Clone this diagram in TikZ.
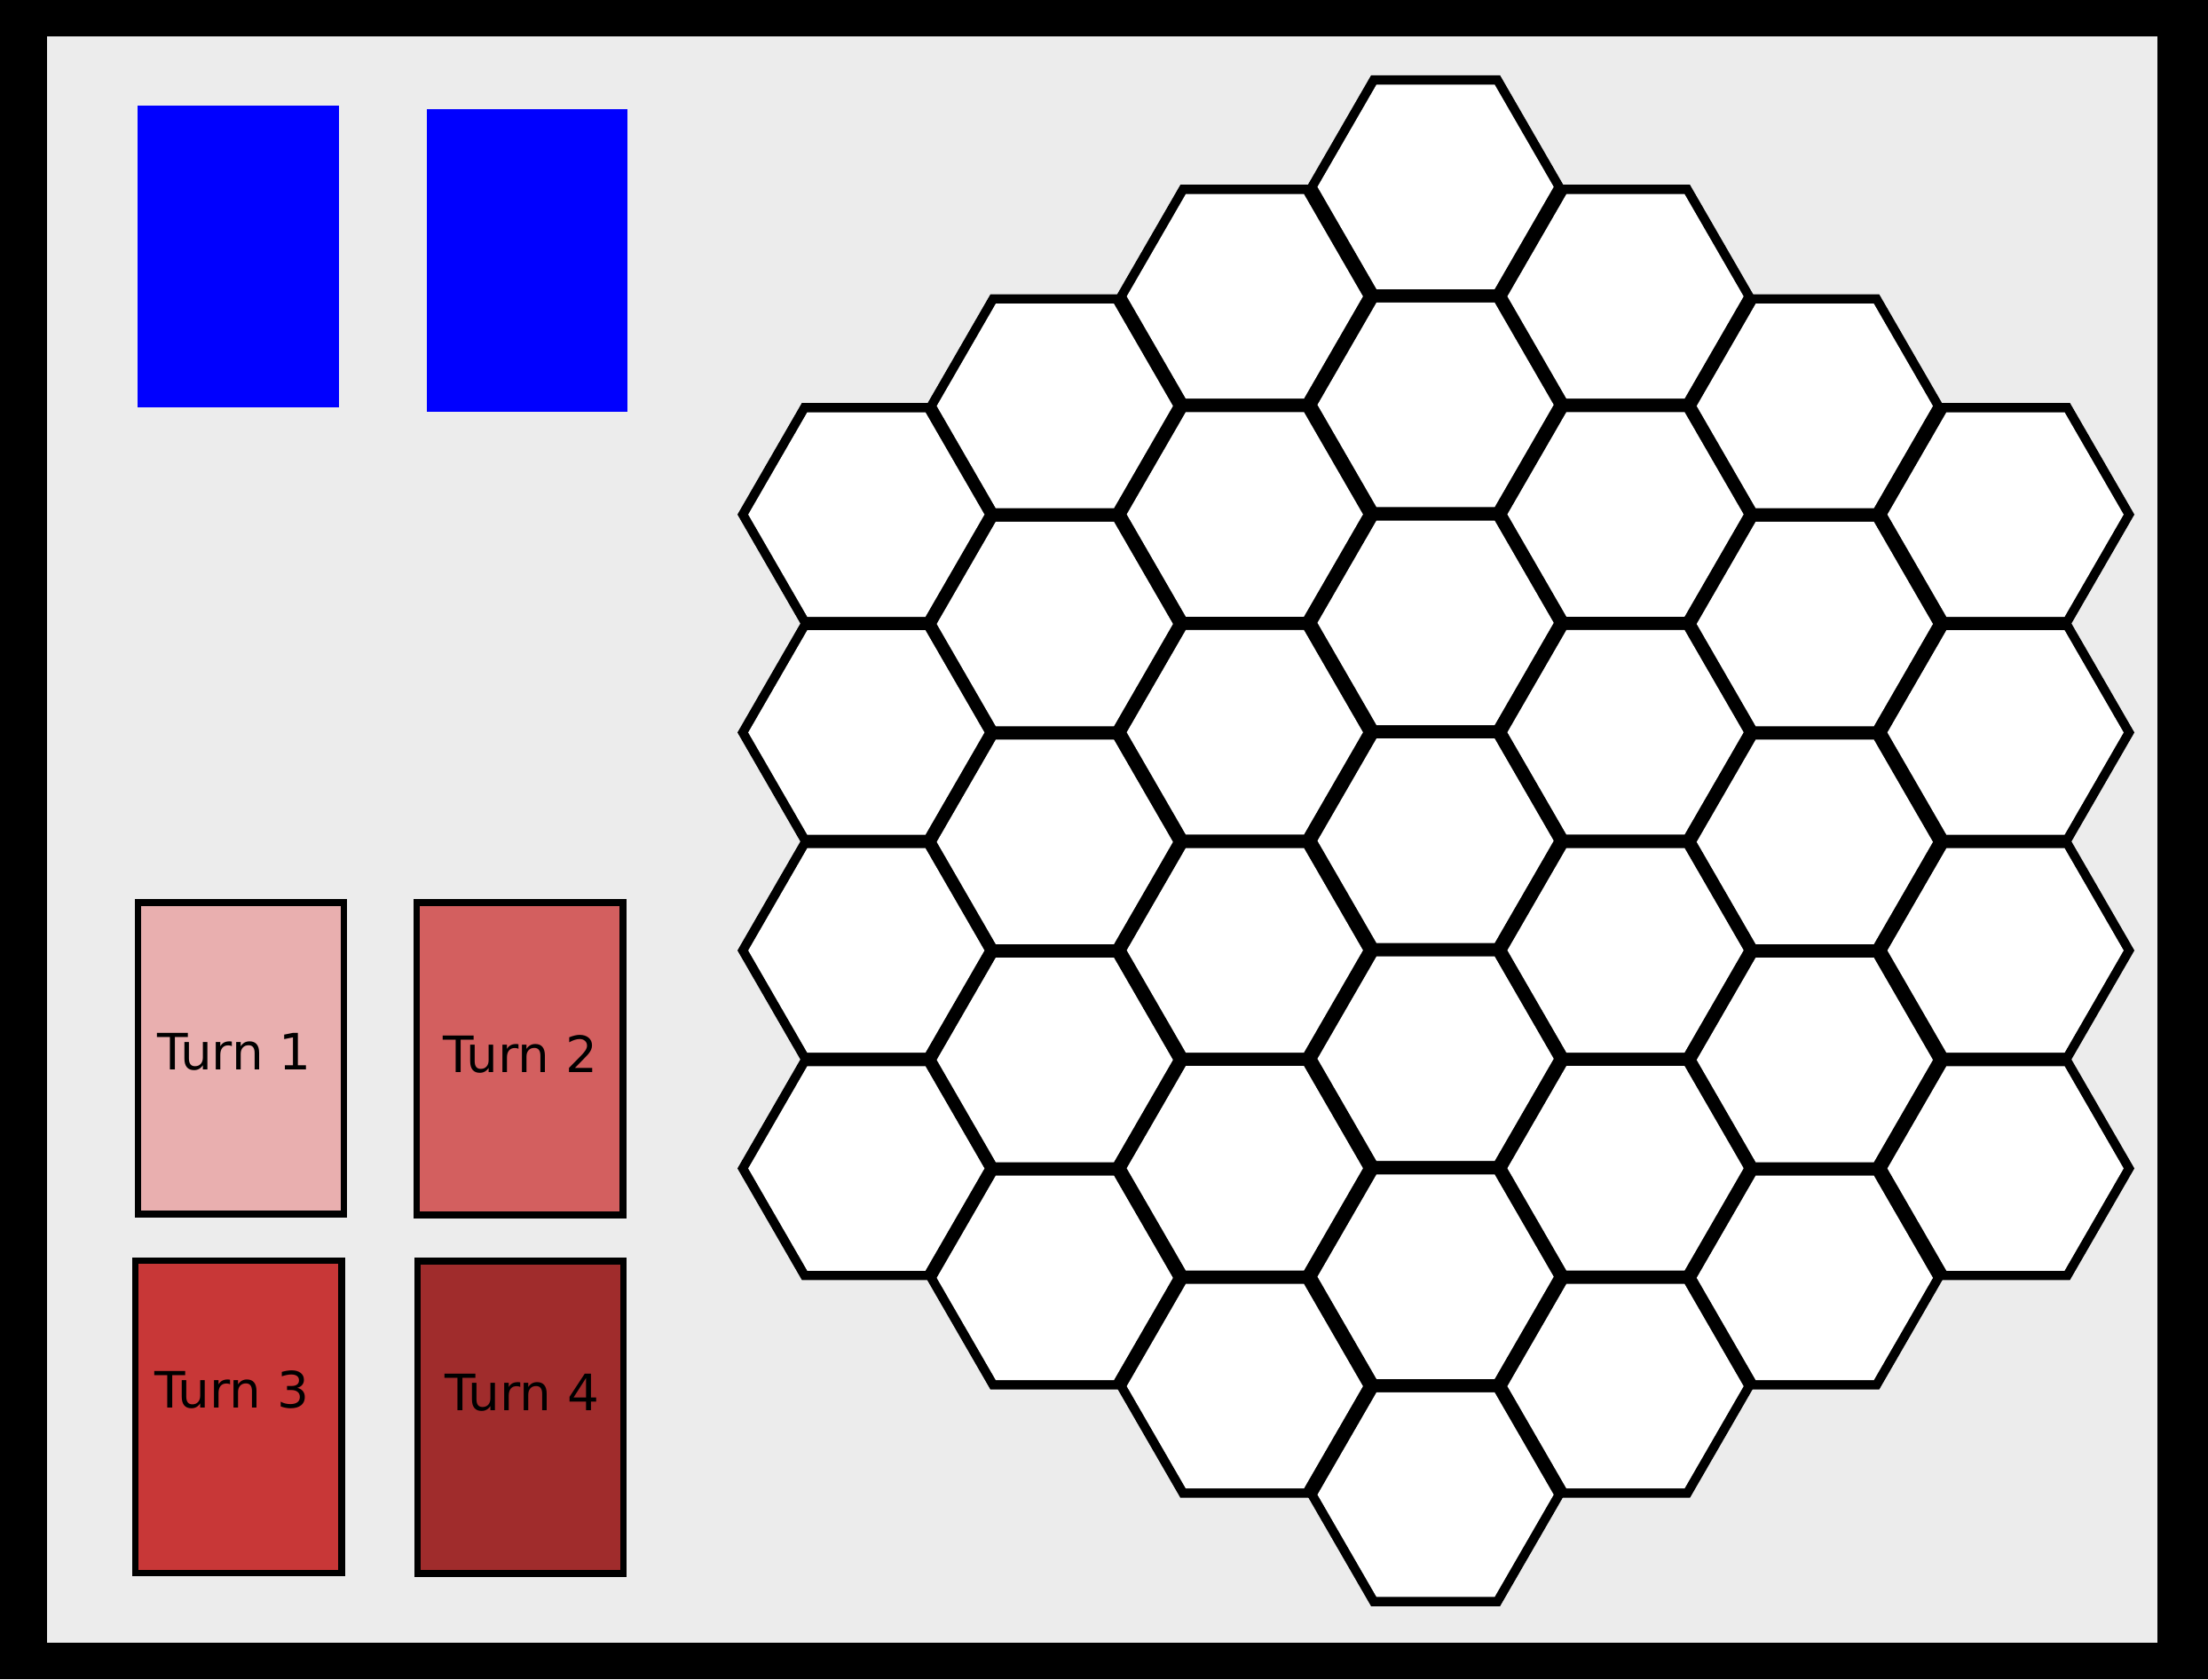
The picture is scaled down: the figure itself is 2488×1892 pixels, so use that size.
\documentclass[tikz,border=0pt]{standalone}
\usepackage{fontspec}
\setmainfont{DejaVu Sans}
\definecolor{bggray}{HTML}{ECECEC}
\definecolor{turnA}{HTML}{E9AFAF}
\definecolor{turnB}{HTML}{D35F5F}
\definecolor{turnC}{HTML}{C83737}
\definecolor{turnD}{HTML}{A02C2C}
\definecolor{cardblue}{HTML}{0000FF}
\newcommand\hexshape[3]{({#1+#3},{#2}) -- ({#1+0.5*#3},{#2+0.866025*#3}) -- ({#1-0.5*#3},{#2+0.866025*#3}) -- ({#1-#3},{#2}) -- ({#1-0.5*#3},{#2-0.866025*#3}) -- ({#1+0.5*#3},{#2-0.866025*#3}) -- cycle}
\tikzset{
  turncard/.style={draw=black, line width=7.5pt},
  turnlabel/.style={inner sep=0pt, anchor=base, text=black, font=\fontsize{56.5}{62}\selectfont},
}
\begin{document}
\begin{tikzpicture}[x=1pt,y=-1pt]
\useasboundingbox (0,0) rectangle (2488,1892);
% frame
\fill[black] (0,0) rectangle (2488,1892);
\fill[bggray] (52.5,41.3) rectangle (2431,1850.5);
% blue cards
\fill[cardblue] (155.1,119.4) rectangle (382.1,459.2);
\fill[cardblue] (480.6,123.2) rectangle (707.1,464.2);
% turn cards
\draw[turncard, fill=turnA] (155.5,1017.2) rectangle (387.3,1368);
\draw[turncard, fill=turnB] (469.3,1017.2) rectangle (702.1,1369.2);
\draw[turncard, fill=turnC] (152.5,1420.4) rectangle (384.8,1772.3);
\draw[turncard, fill=turnD] (470.3,1421) rectangle (702.5,1772.9);
\node[turnlabel] (l1) at (264,1205) {Turn 1};
\node[turnlabel] (l2) at (586.5,1208) {Turn 2};
\node[turnlabel] (l3) at (261.7,1586.7) {Turn 3};
\node[turnlabel] (l4) at (588.2,1589) {Turn 4};
% hex board: black layer
\foreach \cx/\ty/\n in {976.2/457/3, 1188.6/334.7/4, 1402.7/211.2/5, 1617.6/87.8/6, 1831.6/211.2/5, 2044.9/334.7/4, 2259.8/457/3}{
  \foreach \k in {0,...,\n}{
    \fill[black] \hexshape{\cx}{\ty+122.75+245.6*\k}{145.2};
  }
}
% hex board: white cells
\foreach \cx/\ty/\n in {976.2/457/3, 1188.6/334.7/4, 1402.7/211.2/5, 1617.6/87.8/6, 1831.6/211.2/5, 2044.9/334.7/4, 2259.8/457/3}{
  \foreach \k in {0,...,\n}{
    \fill[white] \hexshape{\cx}{\ty+122.75+245.6*\k}{133.08};
  }
}
\end{tikzpicture}
\end{document}
